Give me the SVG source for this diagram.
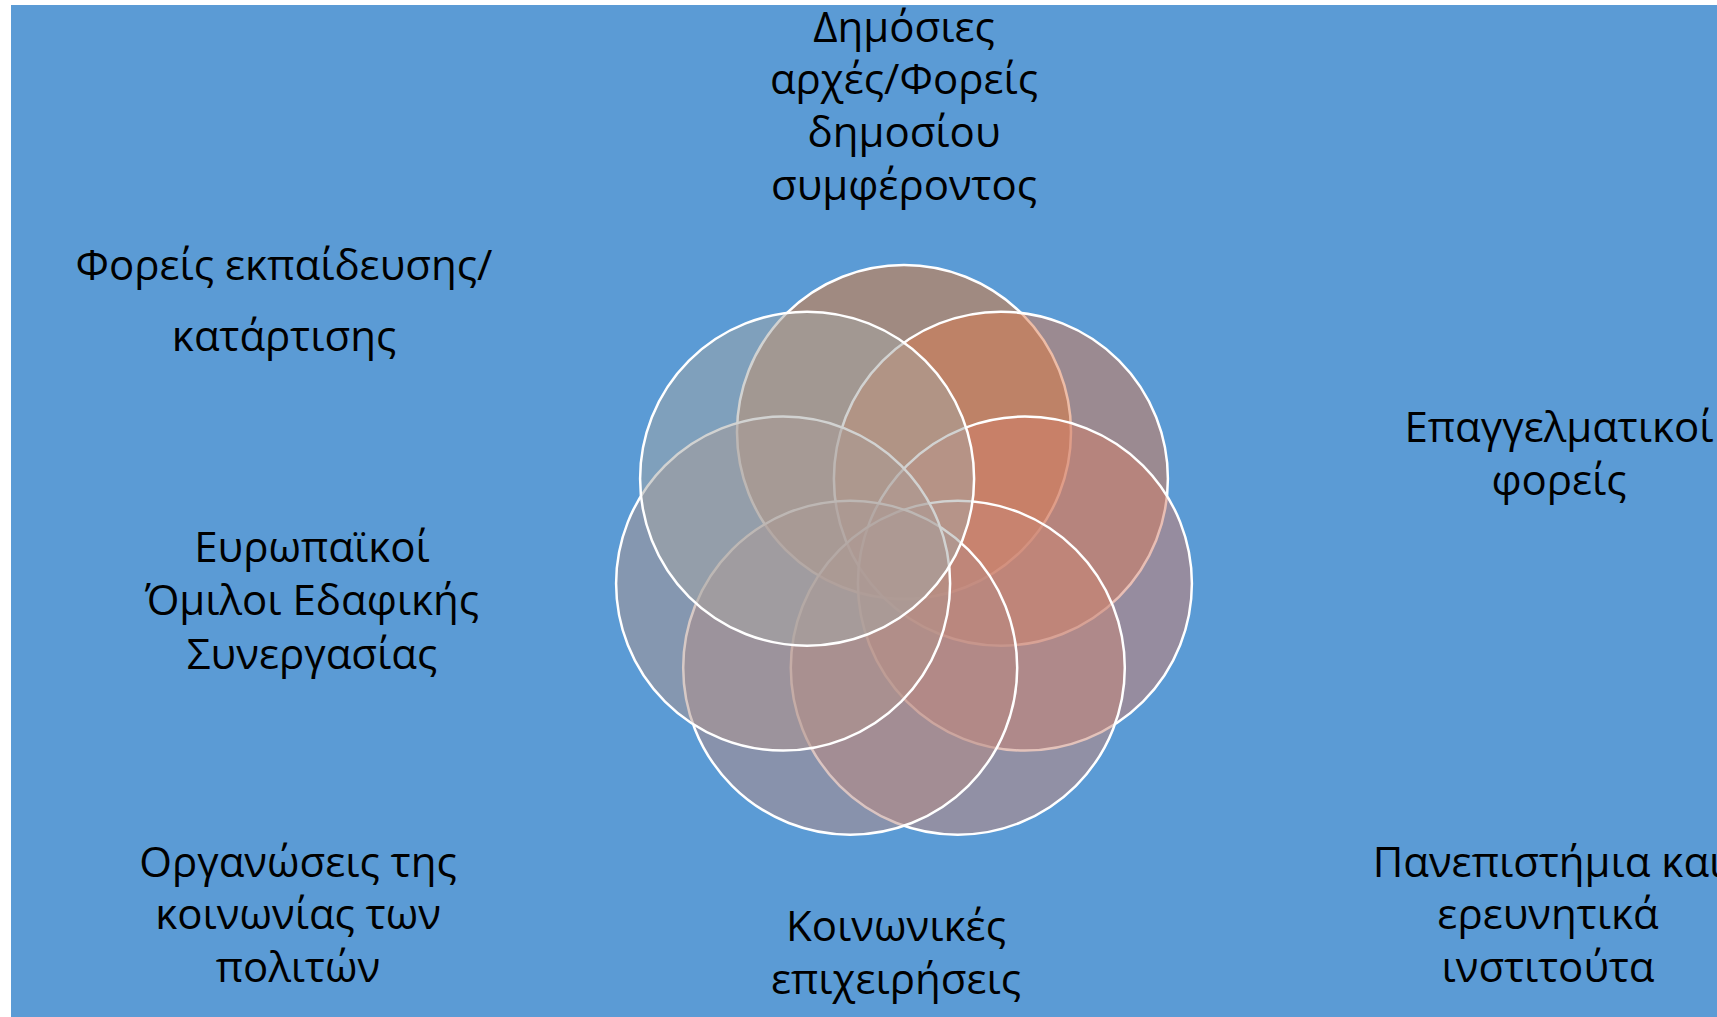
<svg xmlns="http://www.w3.org/2000/svg" width="1717" height="1017" viewBox="0 0 1717 1017">
  <style>
    .bg { fill: #5B9BD5; }
    .petal { stroke: #FFFFFF; stroke-width: 2.5; fill-opacity: 0.5; }
    .lbl { font-family: "Open Sans", "Noto Sans", "DejaVu Sans", sans-serif; font-size: 42px; fill: #000000; text-anchor: middle; }
  </style>
  <rect x="0" y="0" width="1717" height="1017" fill="#FFFFFF"/>
  <rect class="bg" x="11" y="5" width="1706" height="1012"/>

  <g id="connectors"/>

  <g id="circles">
    <g id="circle-0"><circle class="petal" cx="904" cy="432" r="167" fill="#E67A2D"/></g>
    <g id="circle-1"><circle class="petal" cx="1000.9" cy="478.7" r="167" fill="#DB794D"/></g>
    <g id="circle-2"><circle class="petal" cx="1024.9" cy="583.6" r="167" fill="#D17D69"/></g>
    <g id="circle-3"><circle class="petal" cx="957.8" cy="667.7" r="167" fill="#C78575"/></g>
    <g id="circle-4"><circle class="petal" cx="850.2" cy="667.7" r="167" fill="#B58983"/></g>
    <g id="circle-5"><circle class="petal" cx="783.1" cy="583.6" r="167" fill="#AF938B"/></g>
    <g id="circle-6"><circle class="petal" cx="807.1" cy="478.7" r="167" fill="#A3A5A3"/></g>
  </g>

  <g id="label-public">
    <text class="lbl" x="904" y="42">Δημόσιες</text>
    <text class="lbl" x="904" y="94">αρχές/Φορείς</text>
    <text class="lbl" x="904" y="147">δημοσίου</text>
    <text class="lbl" x="904" y="200">συμφέροντος</text>
  </g>
  <g id="label-education">
    <text class="lbl" x="284" y="280">Φορείς εκπαίδευσης/</text>
    <text class="lbl" x="284" y="351">κατάρτισης</text>
  </g>
  <g id="label-professional">
    <text class="lbl" x="1559" y="442">Επαγγελματικοί</text>
    <text class="lbl" x="1559" y="495">φορείς</text>
  </g>
  <g id="label-egtc">
    <text class="lbl" x="312" y="562">Ευρωπαϊκοί</text>
    <text class="lbl" x="312" y="615">Όμιλοι Εδαφικής</text>
    <text class="lbl" x="312" y="669">Συνεργασίας</text>
  </g>
  <g id="label-universities">
    <text class="lbl" x="1548" y="877">Πανεπιστήμια και</text>
    <text class="lbl" x="1548" y="929">ερευνητικά</text>
    <text class="lbl" x="1548" y="982">ινστιτούτα</text>
  </g>
  <g id="label-civil">
    <text class="lbl" x="298" y="877">Οργανώσεις της</text>
    <text class="lbl" x="298" y="929">κοινωνίας των</text>
    <text class="lbl" x="298" y="982">πολιτών</text>
  </g>
  <g id="label-social">
    <text class="lbl" x="896" y="941">Κοινωνικές</text>
    <text class="lbl" x="896" y="994">επιχειρήσεις</text>
  </g>
</svg>
